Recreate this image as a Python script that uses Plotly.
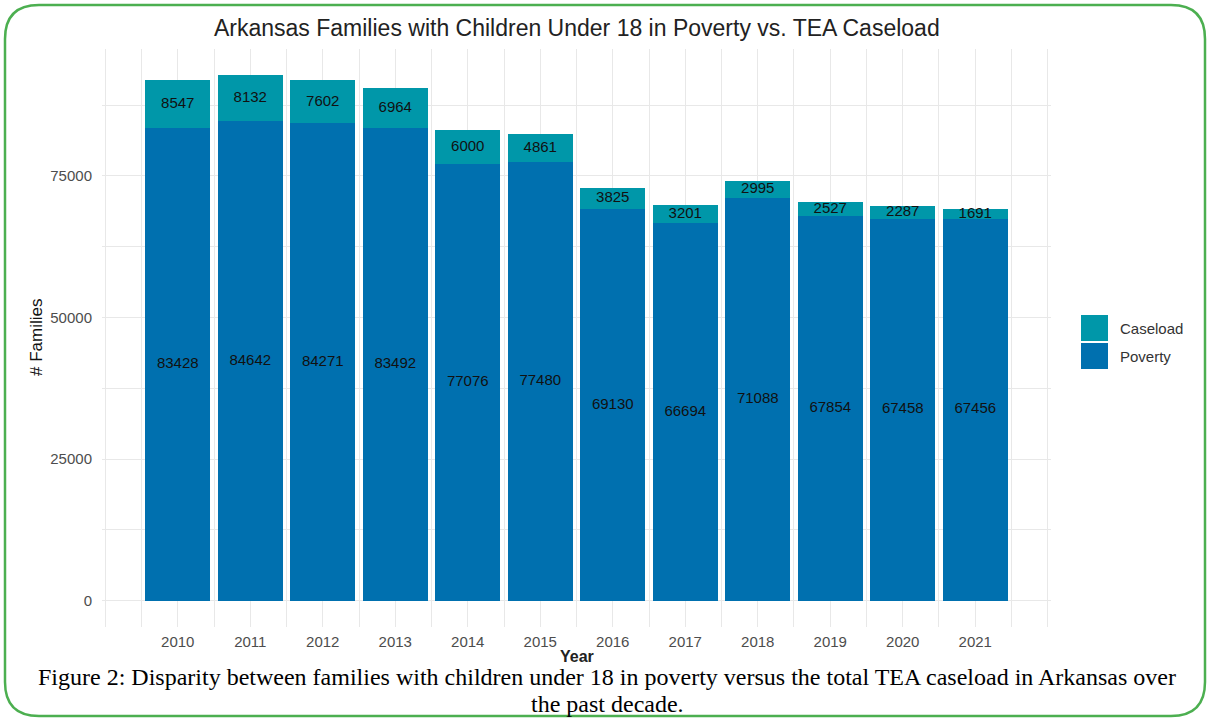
import plotly.graph_objects as go

# Arkansas families with children under 18 in poverty and TEA caseload, by year
years = [2010, 2011, 2012, 2013, 2014, 2015, 2016, 2017, 2018, 2019, 2020, 2021]
poverty = [83428, 84642, 84271, 83492, 77076, 77480, 69130, 66694, 71088, 67854, 67458, 67456]
caseload = [8547, 8132, 7602, 6964, 6000, 4861, 3825, 3201, 2995, 2527, 2287, 1691]
year_labels = [str(y) for y in years]
y_ticks = [0, 25000, 50000, 75000]
series_names = ["Caseload", "Poverty"]

CASELOAD_COLOR = "#0097A9"
POVERTY_COLOR = "#0070AF"
GRID = "#e8e8e8"
SANS = "Liberation Sans, Arial"
SERIF = "Liberation Serif, Times New Roman"

W, H = 1211, 720
L, R, T, B = 102, 160, 49, 93
PW, PH = W - L - R, H - T - B


def px(x):
    return (x - L) / PW


def py(y):
    return (H - B - y) / PH


fig = go.Figure()

fig.add_trace(go.Bar(x=years, y=poverty, name="Poverty", marker_color=POVERTY_COLOR,
                     marker_line_width=0, width=0.9, showlegend=False))
fig.add_trace(go.Bar(x=years, y=caseload, name="Caseload", marker_color=CASELOAD_COLOR,
                     marker_line_width=0, width=0.9, showlegend=False))

# value labels centred in each stacked segment
label_x = years + years
label_y = [p / 2 for p in poverty] + [p + c / 2 for p, c in zip(poverty, caseload)]
label_t = [str(v) for v in poverty] + [str(v) for v in caseload]
fig.add_trace(go.Scatter(x=label_x, y=label_y, text=label_t, mode="text",
                         textfont=dict(family=SANS, size=15, color="#111111"),
                         showlegend=False, hoverinfo="skip", cliponaxis=False))

top = max(p + c for p, c in zip(poverty, caseload))
pad = top * 0.05

fig.update_layout(
    width=W, height=H,
    margin=dict(l=L, r=R, t=T, b=B),
    barmode="stack",
    bargap=0.1,
    paper_bgcolor="white",
    plot_bgcolor="white",
    font=dict(family=SANS, color="#4d4d4d"),
    showlegend=False,
    xaxis=dict(
        range=[2008.955, 2022.045],
        tickvals=years, ticktext=year_labels,
        tickfont=dict(size=15, color="#4d4d4d"),
        showgrid=True, gridcolor=GRID, gridwidth=1.4,
        minor=dict(tick0=2009, dtick=0.5, showgrid=True, gridcolor=GRID, gridwidth=1.1),
        zeroline=False, showline=False, ticks="", ticklabelstandoff=4,
    ),
    yaxis=dict(
        range=[-pad, top + pad],
        tickvals=y_ticks, ticktext=[str(v) for v in y_ticks],
        tickfont=dict(size=15, color="#4d4d4d"),
        showgrid=True, gridcolor=GRID, gridwidth=1.4,
        minor=dict(tick0=0, dtick=12500, showgrid=True, gridcolor=GRID, gridwidth=1.1),
        zeroline=False, showline=False, ticks="", ticklabelstandoff=9,
    ),
)

caption_lines = [
    "Figure 2: Disparity between families with children under 18 in poverty versus the total TEA caseload in Arkansas over",
    "the past decade.",
]

annotations = [
    dict(text="Arkansas Families with Children Under 18 in Poverty vs. TEA Caseload",
         x=0.5, y=py(28), xref="paper", yref="paper", showarrow=False,
         xanchor="center", yanchor="middle",
         font=dict(family=SANS, size=23, color="#222222")),
    dict(text="# Families", x=px(36), y=0.5, xref="paper", yref="paper", showarrow=False,
         textangle=-90, xanchor="center", yanchor="middle",
         font=dict(family=SANS, size=17, color="#111111")),
    dict(text="<b>Year</b>", x=0.5, y=py(656), xref="paper", yref="paper", showarrow=False,
         xanchor="center", yanchor="middle",
         font=dict(family=SANS, size=16, color="#222222")),
    dict(text=caption_lines[0], x=px(607), y=py(677), xref="paper", yref="paper", showarrow=False,
         xanchor="center", yanchor="middle",
         font=dict(family=SERIF, size=24, color="#000000")),
    dict(text=caption_lines[1], x=px(607), y=py(704), xref="paper", yref="paper", showarrow=False,
         xanchor="center", yanchor="middle",
         font=dict(family=SERIF, size=24, color="#000000")),
]

# legend drawn as key squares with labels
shapes = []
legend_colors = [CASELOAD_COLOR, POVERTY_COLOR]
for i, (name, col) in enumerate(zip(series_names, legend_colors)):
    y0 = 315 + i * 28
    shapes.append(dict(type="rect", xref="paper", yref="paper",
                       x0=px(1081), x1=px(1108), y0=py(y0 + 26), y1=py(y0),
                       fillcolor=col, line=dict(width=0)))
    annotations.append(dict(text=name, x=px(1118), y=py(y0 + 13), xref="paper", yref="paper",
                            showarrow=False, xanchor="left", yanchor="middle",
                            font=dict(family=SANS, size=15, color="#333333")))

# rounded green frame around the figure
x0, y0, x1, y1, r = 5, 5, 1205, 716, 34
pts = [
    ("M", (x0 + r, y0)), ("L", (x1 - r, y0)), ("Q", (x1, y0), (x1, y0 + r)),
    ("L", (x1, y1 - r)), ("Q", (x1, y1), (x1 - r, y1)),
    ("L", (x0 + r, y1)), ("Q", (x0, y1), (x0, y1 - r)),
    ("L", (x0, y0 + r)), ("Q", (x0, y0), (x0 + r, y0)),
]
path = ""
for seg in pts:
    cmd = seg[0]
    coords = " ".join(f"{px(a):.5f},{py(b):.5f}" for a, b in seg[1:])
    path += f"{cmd} {coords} "
path += "Z"
shapes.append(dict(type="path", xref="paper", yref="paper", path=path,
                   line=dict(color="#4CAF50", width=2.5), fillcolor="rgba(0,0,0,0)"))

fig.update_layout(annotations=annotations, shapes=shapes)

fig.write_html("out.html")
